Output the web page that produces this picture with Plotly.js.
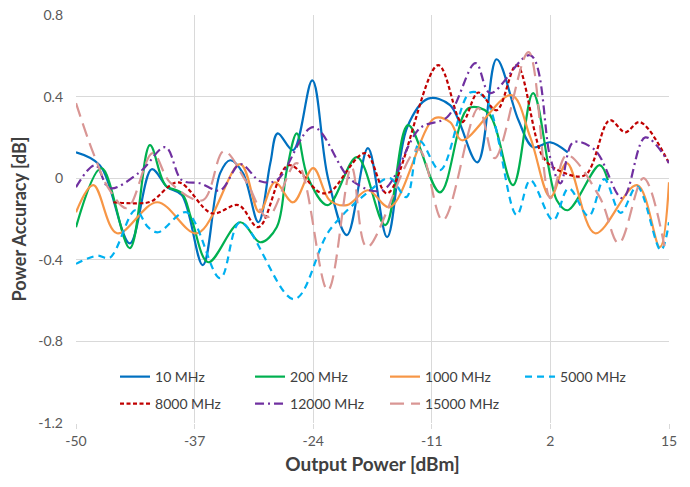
<!DOCTYPE html>
<html>
<head>
<meta charset="utf-8">
<script src="https://cdn.plot.ly/plotly-3.0.1.min.js"></script>
<style>html,body{margin:0;padding:0;background:#fff;}#chart{width:690px;height:487px;}</style>
</head>
<body>
<div id="chart"></div>
<script>
// ---- data ----
const seriesNames = ["10 MHz", "200 MHz", "1000 MHz", "5000 MHz", "8000 MHz", "12000 MHz", "15000 MHz"];

const x10 = [-50, -47.4, -44.1, -41.7, -40.0, -38.4, -36.1, -34.2, -33.1, -31.7, -30.0, -28.7, -27.9, -26.2, -24.1, -22.4, -20.3, -18.0, -15.9, -13.7, -11.4, -9.0, -6.0, -3.9, -1.5, 0.1, 2.0, 3.9];
const y10 = [0.127, 0.064, -0.319, 0.044, -0.044, -0.083, -0.426, 0.025, 0.088, 0.025, -0.216, 0.074, 0.22, 0.137, 0.48, 0.005, -0.279, 0.147, -0.289, 0.25, 0.39, 0.358, 0.078, 0.583, 0.284, 0.152, 0.176, 0.127];

const x200 = [-50, -47.2, -44.1, -41.9, -40.2, -38.4, -37.3, -35.5, -32.0, -29.8, -28.0, -26.9, -25.8, -24.6, -22.4, -19.2, -16.1, -13.6, -10.1, -7.0, -4.8, -2.1, 0.1, 2.7, 3.9, 7.4, 8.3];
const y200 = [-0.24, 0.049, -0.343, 0.162, -0.034, -0.074, -0.206, -0.412, -0.216, -0.314, -0.24, 0.039, 0.22, 0.005, -0.132, 0.103, -0.23, 0.26, -0.069, 0.343, 0.319, -0.034, 0.417, -0.108, -0.157, 0.064, -0.01];

const x1000 = [-50, -48.1, -45.5, -41.1, -36.7, -32.0, -29.9, -28.2, -26.2, -24.0, -22.2, -20.3, -18.0, -15.6, -10.7, -9.0, -7.7, -2.3, -0.2, 2.0, 3.8, 6.9, 11.5, 14.0, 15];
const y1000 = [-0.167, -0.034, -0.27, -0.118, -0.27, 0.069, -0.167, -0.02, -0.118, 0.049, -0.108, -0.132, -0.059, -0.142, 0.294, 0.275, 0.186, 0.407, 0.2, -0.093, 0.074, -0.27, -0.034, -0.338, -0.02];

const x5000 = [-50, -47.7, -46.3, -43.5, -42.1, -41.0, -37.9, -34.2, -32.0, -26.1, -22.2, -18.0, -15.6, -13.8, -12.3, -10.1, -6.8, -5.1, -1.7, -0.2, 2.3, 4.0, 6.2, 7.9, 9.7, 11.5, 14.1, 15];
const y5000 = [-0.42, -0.38, -0.39, -0.157, -0.24, -0.265, -0.167, -0.49, -0.216, -0.593, -0.255, -0.069, 0.0, -0.093, 0.18, 0.039, 0.42, 0.39, -0.18, -0.01, -0.206, -0.049, -0.186, -0.005, -0.17, -0.04, -0.353, -0.216];

const x8000 = [-45.9, -43.3, -41.8, -38.8, -35.1, -32.2, -30.0, -26.7, -23.3, -22.2, -18.3, -15.9, -10.3, -7.7, -5.9, -3.9, -1.7, 1.2, 3.1, 5.8, 8.5, 10.2, 11.8, 15];
const y8000 = [-0.118, -0.123, -0.115, -0.02, -0.172, -0.132, -0.24, 0.064, -0.069, -0.069, 0.123, -0.074, 0.554, 0.275, 0.42, 0.333, 0.554, 0.103, 0.034, 0.015, 0.284, 0.225, 0.275, 0.074];

const x12000 = [-50, -47.9, -46.3, -43.0, -40.2, -38.4, -36.4, -34.2, -32.0, -29.8, -28.0, -24.0, -19.8, -16.4, -12.3, -9.3, -6.2, -4.6, -0.2, 2.0, 3.1, 4.5, 6.9, 9.9, 12.4, 15];
const y12000 = [-0.044, 0.064, -0.049, 0.03, 0.152, -0.01, -0.025, -0.059, 0.069, -0.015, -0.01, 0.25, -0.01, -0.059, 0.245, 0.3, 0.564, 0.417, 0.603, 0.098, -0.025, 0.176, 0.137, -0.098, 0.2, 0.074];

const x15000 = [-50, -48.1, -46.3, -44.4, -41.6, -39.7, -36.1, -33.8, -31.3, -29.0, -25.8, -22.4, -19.8, -18.1, -12.5, -9.8, -5.9, -4.1, -0.4, 2.0, 3.8, 7.4, 9.5, 12.2, 14.5];
const y15000 = [0.368, 0.123, -0.059, -0.147, 0.123, -0.02, -0.108, 0.132, -0.02, -0.191, 0.074, -0.549, 0.054, -0.338, 0.142, -0.206, 0.343, 0.098, 0.618, -0.098, 0.113, -0.093, -0.319, 0.0, -0.333];

const xTickVals = [-50, -37, -24, -11, 2, 15];
const xTickText = ["-50", "-37", "-24", "-11", "2", "15"];
const yTickVals = [0.8, 0.4, 0, -0.4, -0.8, -1.2];
const yTickText = ["0.8", "0.4", "0", "-0.4", "-0.8", "-1.2"];

const xs = [x10, x200, x1000, x5000, x8000, x12000, x15000];
const ys = [y10, y200, y1000, y5000, y8000, y12000, y15000];
const colors = ["#0070C0", "#00B050", "#F79646", "#00B0F0", "#C00000", "#7030A0", "#D99694"];
const dashes = ["solid", "solid", "solid", "7px,5px", "4px,2.5px", "9px,4px,2px,4px", "14px,7px"];
const legendIds = ["legend", "legend", "legend", "legend", "legend2", "legend2", "legend2"];

const traces = seriesNames.map((n, i) => ({
  x: xs[i], y: ys[i], name: n, type: "scatter", mode: "lines",
  legend: legendIds[i],
  line: {color: colors[i], width: 2.2, dash: dashes[i], shape: "spline", smoothing: 1},
  hoverinfo: "skip"
}));

const font = "Lato, 'Open Sans', sans-serif";
const legendBase = {
  orientation: "h", x: 0.0658, xanchor: "left", yanchor: "middle",
  entrywidth: 90, entrywidthmode: "pixels", itemwidth: 30,
  font: {family: font, size: 14, color: "#404040"},
  bgcolor: "rgba(255,255,255,0)"
};
const layout = {
  width: 690, height: 487,
  margin: {l: 76, r: 21, t: 15, b: 64},
  paper_bgcolor: "#fff", plot_bgcolor: "#fff",
  font: {family: font, size: 13, color: "#595959"},
  showlegend: true,
  legend: Object.assign({}, legendBase, {y: 0.1127}),
  legend2: Object.assign({}, legendBase, {y: 0.0466}),
  xaxis: {
    range: [-50, 15], tickvals: xTickVals, ticktext: xTickText,
    showgrid: true, gridcolor: "#D9D9D9", gridwidth: 1,
    zeroline: false, showline: false,
    ticks: "outside", ticklen: 5, tickcolor: "#D9D9D9",
    tickfont: {family: font, size: 14, color: "#595959"},
    title: {text: "Output Power [dBm]", font: {family: font, size: 19, color: "#404040", weight: "bold"}, standoff: 9}
  },
  yaxis: {
    range: [-1.2, 0.8], tickvals: yTickVals, ticktext: yTickText,
    showgrid: true, gridcolor: "#D9D9D9", gridwidth: 1,
    zeroline: false, showline: false, ticks: "",
    ticklabelstandoff: 12,
    tickfont: {family: font, size: 14, color: "#595959"},
    title: {text: "Power Accuracy [dB]", font: {family: font, size: 18, color: "#404040", weight: "bold"}, standoff: 6}
  }
};

Plotly.newPlot("chart", traces, layout, {staticPlot: true, displayModeBar: false});
</script>
</body>
</html>
